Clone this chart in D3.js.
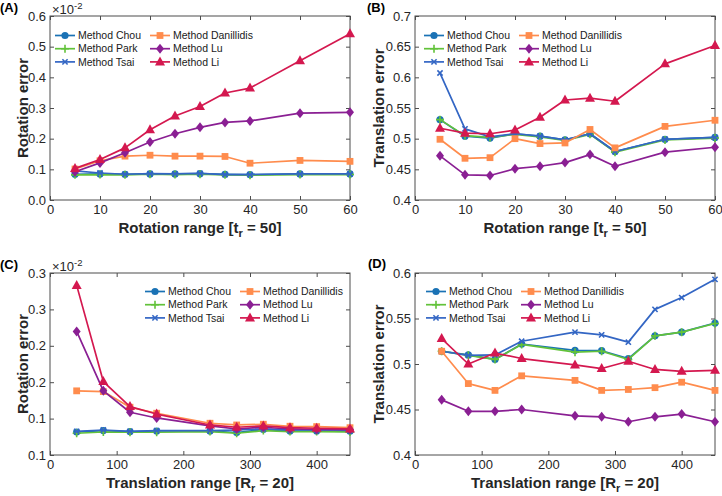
<!DOCTYPE html>
<html><head><meta charset="utf-8">
<script src="https://cdn.jsdelivr.net/npm/d3@7"></script>
<style>
html,body{margin:0;padding:0;background:#fff;}
svg{display:block;font-family:"Liberation Sans",Arial,Helvetica,sans-serif;}
</style></head>
<body><svg id="chart" width="722" height="496"></svg>
<script>
// ---------- data ----------
const methods = ["Method Chou","Method Park","Method Tsai","Method Danillidis","Method Lu","Method Li"];
const colors  = ["#1a72b5","#62c23a","#3366c4","#ff8c4d","#8a1f93","#d4184f"];
const markers = ["circle","plus","x","square","diamond","triangle"];

const xRot   = [5,10,15,20,25,30,35,40,50,60];
const xTrans = [40,80,120,160,240,280,320,360,400,450];

// Panel A: rotation error (x10^-2) vs rotation range
const aChou = [0.084,0.085,0.084,0.085,0.085,0.086,0.084,0.083,0.085,0.085];
const aPark = [0.082,0.083,0.082,0.084,0.083,0.084,0.082,0.081,0.083,0.083];
const aTsai = [0.095,0.088,0.084,0.086,0.085,0.087,0.083,0.083,0.085,0.085];
const aDan  = [0.101,0.128,0.143,0.146,0.143,0.143,0.142,0.120,0.129,0.126];
const aLu   = [0.092,0.121,0.154,0.189,0.216,0.237,0.253,0.258,0.283,0.286];
const aLi   = [0.103,0.132,0.170,0.229,0.274,0.305,0.349,0.365,0.454,0.542];

// Panel B: translation error vs rotation range
const bChou = [0.531,0.504,0.501,0.508,0.504,0.498,0.508,0.479,0.499,0.502];
const bPark = [0.531,0.505,0.502,0.507,0.503,0.497,0.507,0.478,0.498,0.501];
const bTsai = [0.607,0.516,0.503,0.508,0.504,0.498,0.508,0.479,0.499,0.502];
const bDan  = [0.499,0.468,0.469,0.500,0.492,0.493,0.515,0.485,0.520,0.530];
const bLu   = [0.472,0.441,0.440,0.451,0.455,0.461,0.474,0.455,0.478,0.486];
const bLi   = [0.517,0.509,0.508,0.514,0.535,0.563,0.566,0.561,0.622,0.652];

// Panel C: rotation error (x10^-2) vs translation range
const cChou = [0.1253,0.1268,0.1257,0.1264,0.1264,0.1246,0.1280,0.1264,0.1264,0.1260];
const cPark = [0.1239,0.1253,0.1250,0.1250,0.1257,0.1239,0.1268,0.1257,0.1257,0.1253];
const cTsai = [0.1260,0.1275,0.1260,0.1268,0.1268,0.1275,0.1286,0.1275,0.1275,0.1272];
const cDan  = [0.1705,0.1697,0.1525,0.1459,0.1349,0.1330,0.1338,0.1316,0.1312,0.1300];
const cLu   = [0.2358,0.1705,0.1470,0.1407,0.1320,0.1286,0.1305,0.1286,0.1280,0.1279];
const cLi   = [0.2864,0.1807,0.1532,0.1450,0.1330,0.1305,0.1320,0.1300,0.1294,0.1286];

// Panel D: translation error vs translation range
const dChou = [0.514,0.510,0.505,0.522,0.515,0.5146,0.506,0.531,0.535,0.545];
const dPark = [0.514,0.5095,0.505,0.5215,0.513,0.514,0.505,0.531,0.535,0.5445];
const dTsai = [0.514,0.5095,0.510,0.525,0.535,0.532,0.524,0.560,0.573,0.593];
const dDan  = [0.514,0.4785,0.471,0.487,0.482,0.471,0.472,0.474,0.480,0.471];
const dLu   = [0.4606,0.448,0.448,0.450,0.443,0.442,0.4365,0.442,0.445,0.4365];
const dLi   = [0.528,0.500,0.512,0.506,0.499,0.495,0.503,0.494,0.492,0.493];

// ticks
const xTicksRot   = [0,10,20,30,40,50,60];
const xTicksTrans = [0,100,200,300,400];
const yTicksA = [0,0.1,0.2,0.3,0.4,0.5,0.6];
const yLabelsA = ["0.0","0.1","0.2","0.3","0.4","0.5","0.6"];
const yTicksB = [0.4,0.45,0.5,0.55,0.6,0.65,0.7];
const yLabelsB = ["0.4","0.45","0.5","0.55","0.6","0.65","0.7"];
const yTicksC = [0.1,0.14,0.18,0.22,0.26,0.3];
const yLabelsC = ["0.1","0.1","0.2","0.2","0.3","0.3"];
const yTicksD = [0.4,0.45,0.5,0.55,0.6];
const yLabelsD = ["0.4","0.45","0.5","0.55","0.6"];

// ---------- panels ----------
const panels = [
  {label:"(A)", lx:0, ly:12, box:[50,350,16,200], xs:xRot, xd:[0,60], xt:xTicksRot, yd:[0,0.6], yt:yTicksA, yl:yLabelsA,
   series:[aChou,aPark,aTsai,aDan,aLu,aLi], ytitle:"Rotation error", yoff:22, xtitle:["Rotation range [t","r"," = 50]"], exp:true,
   legend:[55,35.5]},
  {label:"(B)", lx:367, ly:12, box:[415,715,16,200], xs:xRot, xd:[0,60], xt:xTicksRot, yd:[0.4,0.7], yt:yTicksB, yl:yLabelsB,
   series:[bChou,bPark,bTsai,bDan,bLu,bLi], ytitle:"Translation error", yoff:31, xtitle:["Rotation range [t","r"," = 50]"], exp:false,
   legend:[424,35.5]},
  {label:"(C)", lx:0, ly:269, box:[50,350,273,455], xs:xTrans, xd:[0,450], xt:xTicksTrans, yd:[0.1,0.3], yt:yTicksC, yl:yLabelsC,
   series:[cChou,cPark,cTsai,cDan,cLu,cLi], ytitle:"Rotation error", yoff:22, xtitle:["Translation range [R","r"," = 20]"], exp:true,
   legend:[145,291.5]},
  {label:"(D)", lx:368, ly:268, box:[415,715,273,455], xs:xTrans, xd:[0,450], xt:xTicksTrans, yd:[0.4,0.6], yt:yTicksD, yl:yLabelsD,
   series:[dChou,dPark,dTsai,dDan,dLu,dLi], ytitle:"Translation error", yoff:31, xtitle:["Translation range [R","r"," = 20]"], exp:false,
   legend:[426,291.5]}
];

const svg = d3.select("#chart");
const axisColor = "#4d4d4d";
const tickColor = "#262626";

function drawMarker(g, type, x, y, color){
  if(type==="circle"){
    g.append("circle").attr("cx",x).attr("cy",y).attr("r",3.6).attr("fill",color);
  } else if(type==="square"){
    g.append("rect").attr("x",x-3.4).attr("y",y-3.4).attr("width",6.8).attr("height",6.8).attr("fill",color);
  } else if(type==="diamond"){
    g.append("path").attr("d",`M${x},${y-5}L${x+4},${y}L${x},${y+5}L${x-4},${y}Z`).attr("fill",color);
  } else if(type==="triangle"){
    g.append("path").attr("d",`M${x},${y-5.5}L${x+5},${y+3.5}L${x-5},${y+3.5}Z`).attr("fill",color);
  } else if(type==="plus"){
    g.append("path").attr("d",`M${x-4},${y}H${x+4}M${x},${y-4}V${y+4}`).attr("stroke",color).attr("stroke-width",1.6).attr("fill","none");
  } else if(type==="x"){
    g.append("path").attr("d",`M${x-2.6},${y-2.6}L${x+2.6},${y+2.6}M${x-2.6},${y+2.6}L${x+2.6},${y-2.6}`).attr("stroke",color).attr("stroke-width",1.6).attr("fill","none");
  }
}

panels.forEach(p=>{
  const [L,R,T,B] = p.box;
  const x = d3.scaleLinear().domain(p.xd).range([L,R]);
  const y = d3.scaleLinear().domain(p.yd).range([B,T]);
  const g = svg.append("g");

  // axes
  const fmtY = (d,i)=>p.yl[i];
  const ax = [
    {a:d3.axisBottom(x).tickValues(p.xt).tickSize(-4).tickPadding(5), t:`translate(0,${B})`},
    {a:d3.axisTop(x).tickValues(p.xt).tickSize(-4).tickFormat(""), t:`translate(0,${T})`},
    {a:d3.axisLeft(y).tickValues(p.yt).tickSize(-4).tickPadding(4).tickFormat(fmtY), t:`translate(${L},0)`},
    {a:d3.axisRight(y).tickValues(p.yt).tickSize(-4).tickFormat(""), t:`translate(${R},0)`}
  ];
  ax.forEach(o=>{
    const ag = g.append("g").attr("transform",o.t).call(o.a);
    ag.select(".domain").remove();
    ag.selectAll(".tick line").attr("stroke",axisColor).attr("stroke-width",1);
    ag.selectAll(".tick text").attr("fill",tickColor).style("font-size","13px")
      .style("font-family","'Liberation Sans',Arial,sans-serif");
  });
  g.append("rect").attr("x",L).attr("y",T).attr("width",R-L).attr("height",B-T)
    .attr("fill","none").attr("stroke",axisColor).attr("stroke-width",1);

  // series
  p.series.forEach((vals,si)=>{
    const pts = vals.map((v,i)=>[x(p.xs[i]), y(v)]);
    g.append("path").attr("d",d3.line()(pts)).attr("fill","none")
      .attr("stroke",colors[si]).attr("stroke-width",1.7).attr("stroke-linejoin","round");
    const mg = g.append("g");
    pts.forEach(pt=>drawMarker(mg, markers[si], pt[0], pt[1], colors[si]));
  });

  // legend
  const [lx0, ly0] = p.legend;
  methods.forEach((m,i)=>{
    const col = Math.floor(i/3), row = i%3;
    const gx = lx0 + col*95, gy = ly0 + row*13.2;
    g.append("line").attr("x1",gx).attr("x2",gx+20).attr("y1",gy).attr("y2",gy)
      .attr("stroke",colors[i]).attr("stroke-width",1.7);
    drawMarker(g, markers[i], gx+10, gy, colors[i]);
    g.append("text").attr("x",gx+23).attr("y",gy+3.6).text(m)
      .attr("fill","#1a1a1a").style("font-size","10.5px");
  });

  // panel label
  svg.append("text").attr("x",p.lx).attr("y",p.ly).text(p.label)
    .style("font-weight","bold").style("font-size","13px").attr("fill","#000");

  // exponent
  if(p.exp){
    const t = svg.append("text").attr("x",L+2).attr("y",T-2).attr("fill",tickColor).style("font-size","13px");
    t.append("tspan").text("\u00d710");
    t.append("tspan").attr("dy",-5.5).style("font-size","9.5px").text("-2");
  }

  // x title
  const xt = svg.append("text").attr("x",(L+R)/2).attr("y",B+33).attr("text-anchor","middle")
    .style("font-weight","bold").style("font-size","15px").attr("fill","#262626");
  xt.append("tspan").text(p.xtitle[0]);
  xt.append("tspan").attr("dy",4).style("font-size","11px").text(p.xtitle[1]);
  xt.append("tspan").attr("dy",-4).text(p.xtitle[2]);

  // y title
  svg.append("text").attr("transform",`translate(${L-p.yoff},${(T+B)/2}) rotate(-90)`)
    .attr("text-anchor","middle").style("font-weight","bold").style("font-size","15px")
    .attr("fill","#262626").text(p.ytitle);
});
</script>
</body></html>
